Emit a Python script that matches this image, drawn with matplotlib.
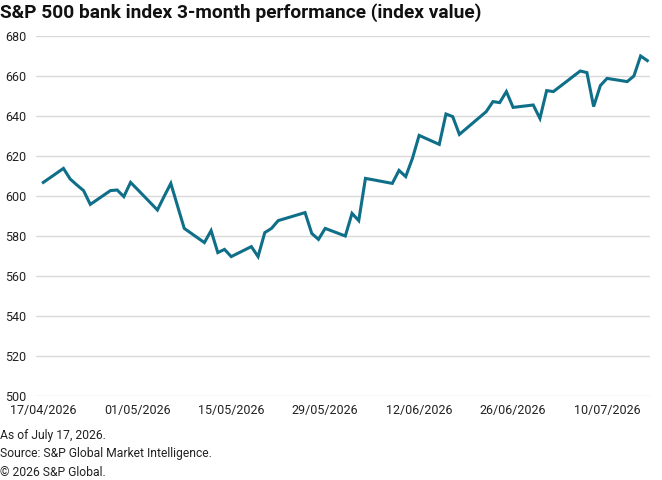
import matplotlib
matplotlib.use("Agg")
import matplotlib.pyplot as plt
import matplotlib.dates as mdates
import pandas as pd

plt.rcParams['font.family'] = ['Roboto', 'DejaVu Sans']

dates = [
    "2026-04-17",
    "2026-04-20", "2026-04-21", "2026-04-22", "2026-04-23", "2026-04-24",
    "2026-04-27", "2026-04-28", "2026-04-29", "2026-04-30", "2026-05-01",
    "2026-05-04", "2026-05-05", "2026-05-06", "2026-05-07", "2026-05-08",
    "2026-05-11", "2026-05-12", "2026-05-13", "2026-05-14", "2026-05-15",
    "2026-05-18", "2026-05-19", "2026-05-20", "2026-05-21", "2026-05-22",
    "2026-05-26", "2026-05-27", "2026-05-28", "2026-05-29",
    "2026-06-01", "2026-06-02", "2026-06-03", "2026-06-04", "2026-06-05",
    "2026-06-08", "2026-06-09", "2026-06-10", "2026-06-11", "2026-06-12",
    "2026-06-15", "2026-06-16", "2026-06-17", "2026-06-18",
    "2026-06-22", "2026-06-23", "2026-06-24", "2026-06-25", "2026-06-26",
    "2026-06-29", "2026-06-30", "2026-07-01", "2026-07-02",
    "2026-07-06", "2026-07-07", "2026-07-08", "2026-07-09", "2026-07-10",
    "2026-07-13", "2026-07-14", "2026-07-15", "2026-07-16",
]
values = [
    606.8,
    613.8, 608.5, 605.5, 602.7, 595.8,
    602.7, 603.0, 599.7, 606.8, 603.4,
    593.0, 599.8, 606.3, 595.0, 583.8,
    576.7, 582.7, 571.7, 573.3, 569.7,
    574.7, 569.7, 581.7, 583.8, 587.7,
    591.7, 581.3, 578.3, 583.8,
    580.0, 591.3, 587.7, 608.8, 608.2,
    606.3, 612.8, 609.7, 618.8, 630.3,
    625.8, 641.0, 639.7, 630.8,
    642.2, 647.2, 646.7, 652.2, 644.3,
    645.5, 638.8, 652.7, 652.2,
    662.5, 661.7, 644.7, 655.2, 658.8,
    657.2, 660.0, 670.0, 667.7,
]
tick_dates = ["2026-04-17", "2026-05-01", "2026-05-15", "2026-05-29",
              "2026-06-12", "2026-06-26", "2026-07-10"]
y_ticks = [500, 520, 540, 560, 580, 600, 620, 640, 660, 680]

title = "S&P 500 bank index 3-month performance (index value)"
notes = ["As of July 17, 2026.",
         "Source: S&P Global Market Intelligence.",
         "\u00a9 2026 S&P Global."]

x = pd.to_datetime(dates)
xt = pd.to_datetime(tick_dates)

fig = plt.figure(figsize=(6.62, 4.80), dpi=100)
ax = fig.add_axes([36/662, 1-396/480, (650-36)/662, 360/480])

ax.plot(x, values, color="#0f6f88", linewidth=2.2, solid_joinstyle="miter", zorder=3)

start = pd.Timestamp("2026-04-17")
ax.set_xlim(start - pd.Timedelta(days=1.09), start + pd.Timedelta(days=90.4))
ax.set_ylim(500, 680)
ax.set_yticks(y_ticks)
ax.set_xticks(xt)
ax.xaxis.set_major_formatter(mdates.DateFormatter("%d/%m/%Y"))

ax.grid(axis="y", color="#d9d9d9", linewidth=1.0)
ax.set_axisbelow(True)
for s in ax.spines.values():
    s.set_visible(False)
ax.tick_params(axis="both", length=0, labelsize=9, colors="#222222")
ax.tick_params(axis="y", pad=7)
ax.tick_params(axis="x", pad=6)

fig.text(0.0, 1-13/480, title, fontsize=13.8, fontweight="bold", va="center", ha="left", color="#111111")
for i, n in enumerate(notes):
    fig.text(0.0, 1-(435+19*i)/480, n, fontsize=8.7, va="center", ha="left", color="#222222")

fig.savefig("out.png", dpi=100)
